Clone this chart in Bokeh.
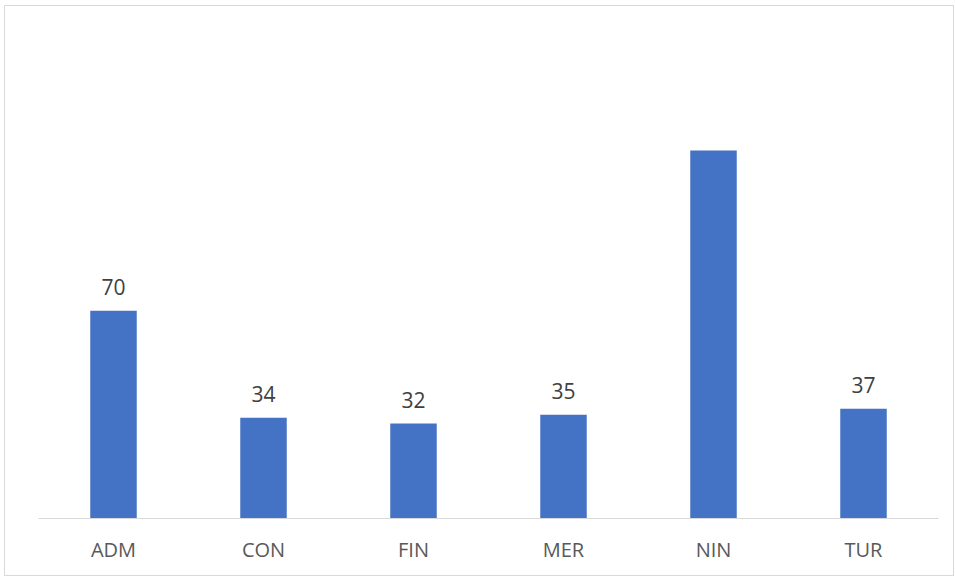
from bokeh.plotting import figure
from bokeh.models import ColumnDataSource, Range1d
from bokeh.core.properties import value
from bokeh.embed import file_html
from bokeh.resources import INLINE

categories = ["ADM", "CON", "FIN", "MER", "NIN", "TUR"]
counts = [70, 34, 32, 35, 124, 37]
labels = ["70", "34", "32", "35", "", "37"]

src = ColumnDataSource(data=dict(cat=categories, val=counts, lab=labels))

p = figure(x_range=categories, y_range=Range1d(0, 169.2), width=950, height=571,
           output_backend="svg", toolbar_location=None,
           min_border_left=33, min_border_right=17, min_border_top=10, min_border_bottom=59)
p.styles = {"border": "1px solid #d9d9d9", "box-sizing": "border-box", "margin": "5px 0 0 4px"}
p.x_range.range_padding = 0
p.vbar(x="cat", top="val", width=0.31, source=src, fill_color="#4472C4", line_color=None)
p.text(x="cat", y="val", text="lab", source=src, text_align="center", text_baseline="alphabetic",
       y_offset=-24, text_font=value("Open Sans"), text_font_size="21px", text_color="#404040")

p.yaxis.visible = False
p.xgrid.grid_line_color = None
p.ygrid.grid_line_color = None
p.outline_line_color = None
p.xaxis.axis_line_color = "#d9d9d9"
p.xaxis.axis_line_width = 1
p.xaxis.major_tick_line_color = None
p.xaxis.minor_tick_line_color = None
p.xaxis.major_label_text_font = "Open Sans"
p.xaxis.major_label_text_font_size = "20px"
p.xaxis.major_label_text_color = "#595959"
p.xaxis.major_label_standoff = 11

open("out.html", "w").write(file_html(p, INLINE))
